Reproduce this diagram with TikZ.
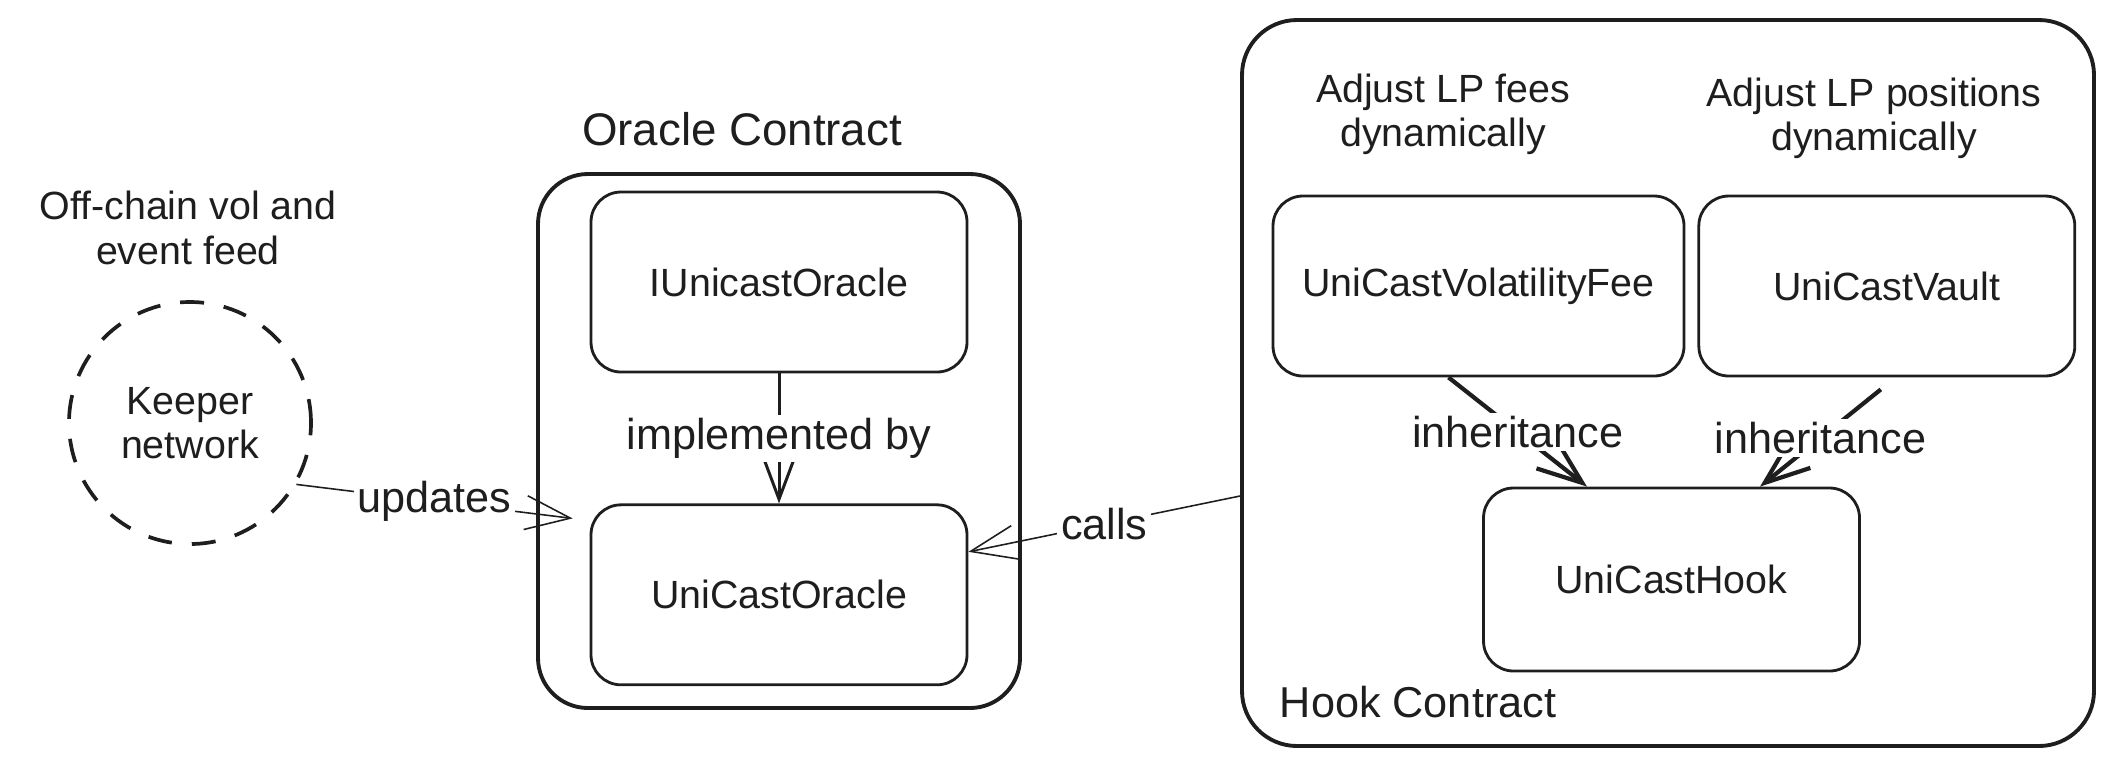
\documentclass[tikz,border=0pt]{standalone}
\usepackage{fontspec}
\setmainfont{Liberation Sans}
\usepackage{tikz}
\usetikzlibrary{arrows.meta, positioning}
\definecolor{ExcaliInk}{HTML}{1e1e1e}

\begin{document}
\begin{tikzpicture}[
  box/.style={draw=ExcaliInk, line width=0.8pt, rounded corners=0.3cm, minimum width=3.76cm, minimum height=1.8cm, font=\fontsize{11.2}{13}\selectfont, text=ExcaliInk},
  cont/.style={draw=ExcaliInk, line width=1.1pt, rounded corners=0.5cm},
  note/.style={align=center, font=\fontsize{11.2}{12.6}\selectfont, text=ExcaliInk},
  hand/.style={font=\fontsize{12.3}{14}\selectfont, text=ExcaliInk},
  tag/.style={hand, fill=white, inner sep=1pt},
  link/.style={draw=ExcaliInk, line width=0.45pt, -{Straight Barb[length=0.45cm, width=0.34cm]}}]
  % page size of the sketch
  \useasboundingbox (0,0) rectangle (21.13,-7.67);

  % containers
  \node[cont, minimum width=4.82cm, minimum height=5.34cm] (OC) at (7.79,-4.41) {};
  \node[cont, rounded corners=0.55cm, minimum width=8.52cm, minimum height=7.26cm] (HC) at (16.68,-3.83) {};
  \node[hand, font=\fontsize{13}{15}\selectfont] (OCt) at (7.42,-1.29) {Oracle Contract};
  \node[hand] (HCt) at (14.18,-7.02) {Hook Contract};

  % off-chain side
  \node[note, draw=ExcaliInk, circle, line width=1.05pt, dash pattern=on 0.24cm off 0.2cm, minimum size=2.42cm] (K) at (1.90,-4.23) {Keeper\\network};
  \node[note] (Kt) at (1.88,-2.28) {Off-chain vol and\\event feed};

  % oracle side
  \node[box] (IO) at (7.79,-2.82) {IUnicastOracle};
  \node[box, below=1.3cm of IO] (UO) {UniCastOracle};

  % hook side
  \node[box, minimum width=4.11cm] (VF) at (14.785,-2.86) {UniCastVolatilityFee};
  \node[box, right=0.12cm of VF] (VT) {UniCastVault};
  \node[box, minimum height=1.83cm] (UH) at (16.715,-5.795) {UniCastHook};
  \node[note] (VFt) at (14.43,-1.14) {Adjust LP fees\\dynamically};
  \node[note] (VTt) at (18.74,-1.18) {Adjust LP positions\\dynamically};

  % connectors, labels sit on the lines
  \draw[link] (K.-30) -- node[tag] {updates} ([shift={(-0.17,-0.15)}]UO.north west);
  \draw[link, line width=0.85pt, -{Straight Barb[length=0.4cm, width=0.3cm]}] (IO) -- node[tag] {implemented by} (UO);
  \draw[link] ([yshift=-1.13cm]HC.west) -- node[tag] {calls} ([yshift=0.43cm]UO.east);
  \draw[link, line width=1.2pt] ([xshift=-0.3cm]VF.south) -- node[tag] {inheritance} ([xshift=-0.845cm]UH.north);
  \draw[link, line width=1.2pt] ([shift={(-0.06,-0.12)}]VT.south) -- node[tag] {inheritance} ([xshift=0.885cm]UH.north);
\end{tikzpicture}
\end{document}
